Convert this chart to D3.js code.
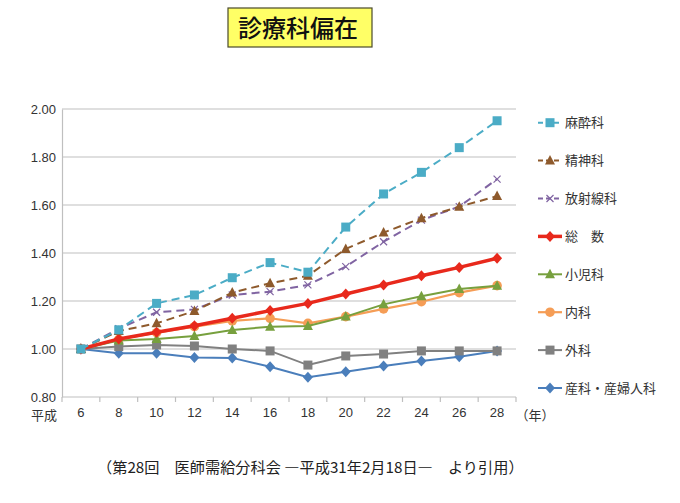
<!DOCTYPE html>
<html><head><meta charset="utf-8">
<script src="https://cdn.jsdelivr.net/npm/d3@7"></script>
<style>body{margin:0;background:#fff}svg{display:block}</style>
</head><body>
<svg id="c" width="680" height="503"></svg>
<script>
const categories = ["6","8","10","12","14","16","18","20","22","24","26","28"];
const yTicks = [0.80,1.00,1.20,1.40,1.60,1.80,2.00];
const seriesNames = ["麻酔科","精神科","放射線科","総　数","小児科","内科","外科","産科・産婦人科"];
const masui    = [1.00,1.08,1.19,1.225,1.297,1.36,1.32,1.508,1.646,1.736,1.839,1.951];
const seishin  = [1.00,1.075,1.107,1.158,1.235,1.274,1.305,1.417,1.485,1.545,1.593,1.637];
const houshasen= [1.00,1.085,1.153,1.165,1.225,1.239,1.267,1.343,1.447,1.537,1.593,1.708];
const sousu    = [1.00,1.042,1.07,1.097,1.128,1.16,1.19,1.229,1.267,1.305,1.34,1.378];
const shouni   = [1.00,1.035,1.042,1.054,1.079,1.093,1.096,1.135,1.186,1.22,1.25,1.264];
const naika    = [1.00,1.04,1.068,1.093,1.117,1.128,1.107,1.135,1.167,1.197,1.235,1.264];
const geka     = [1.00,1.01,1.017,1.0125,1.00,0.992,0.933,0.971,0.979,0.992,0.992,0.992];
const sanka    = [1.00,0.982,0.982,0.965,0.963,0.926,0.882,0.905,0.929,0.95,0.968,0.992];
const allValues = [masui,seishin,houshasen,sousu,shouni,naika,geka,sanka];
const colors = ["#4bacc6","#8e5a2c","#8064a2","#e8291c","#77a03e","#f59d56","#808080","#4a7ebb"];
const markers = ["square","triangle","cross","diamond","triangle","circle","square","diamond"];
const dashed = [true,true,true,false,false,false,false,false];
const widths = [2,2,2,3.5,2,2.2,2,2];
const title = "診療科偏在";
const footnote = "（第28回　医師需給分科会 ―平成31年2月18日―　より引用）";

const svg = d3.select("#c");
const JP = "'Noto Sans CJK JP','Liberation Sans',sans-serif";
const NUM = "'Liberation Sans',Arial,sans-serif";

// title
svg.append("rect").attr("x",228).attr("y",8).attr("width",144).attr("height",39)
  .attr("fill","#ffff66").attr("stroke","#4a4a2a").attr("stroke-width",1.2);
svg.append("text").attr("x",298).attr("y",37).attr("text-anchor","middle")
  .attr("font-family",JP).attr("font-size",24).attr("font-weight",500).attr("fill","#111").text(title);

const x = d3.scaleBand().domain(categories).range([62,516]);
const y = d3.scaleLinear().domain([0.8,2.0]).range([397,109]);

// gridlines
svg.append("g").selectAll("line").data(yTicks.slice(1)).join("line")
  .attr("x1",62).attr("x2",516).attr("y1",d=>y(d)).attr("y2",d=>y(d))
  .attr("stroke","#bfbfbf").attr("stroke-width",1.2);

// y axis
const ya = svg.append("g").attr("transform","translate(62,0)")
  .call(d3.axisLeft(y).tickValues(yTicks).tickFormat(d3.format(".2f")).tickSize(0).tickPadding(6));
ya.select(".domain").attr("stroke","#bfbfbf").attr("stroke-width",1.2);
ya.selectAll("text").attr("font-family",NUM).attr("font-size",13).attr("fill","#333");

// x axis
const xa = svg.append("g").attr("transform","translate(0,397)")
  .call(d3.axisBottom(x).tickSize(0).tickPadding(11));
xa.select(".domain").attr("stroke","#bfbfbf").attr("stroke-width",1.2).attr("d","M62,0H516");
xa.selectAll("text").attr("font-family",NUM).attr("font-size",13).attr("fill","#333");
// tick marks at band boundaries
const bounds = categories.map(c=>x(c)).concat([x.range()[1]]);
svg.append("g").selectAll("line").data(bounds).join("line")
  .attr("x1",d=>d).attr("x2",d=>d).attr("y1",397).attr("y2",402)
  .attr("stroke","#bfbfbf").attr("stroke-width",1.2);
svg.append("text").attr("x",44).attr("y",420).attr("text-anchor","middle")
  .attr("font-family",JP).attr("font-size",13).attr("fill","#333").text("平成");
svg.append("text").attr("x",535).attr("y",420).attr("text-anchor","middle")
  .attr("font-family",JP).attr("font-size",13).attr("fill","#333").text("（年）");

function drawMarker(g, type, cx, cy, color){
  if(type==="square"){
    g.append("rect").attr("x",cx-4.5).attr("y",cy-4.5).attr("width",9).attr("height",9).attr("fill",color);
  } else if(type==="triangle"){
    g.append("path").attr("d",`M${cx},${cy-5.5}L${cx+5},${cy+4}L${cx-5},${cy+4}Z`).attr("fill",color);
  } else if(type==="diamond"){
    g.append("path").attr("d",`M${cx},${cy-5.5}L${cx+5},${cy}L${cx},${cy+5.5}L${cx-5},${cy}Z`).attr("fill",color);
  } else if(type==="circle"){
    g.append("circle").attr("cx",cx).attr("cy",cy).attr("r",4.8).attr("fill",color);
  } else if(type==="cross"){
    g.append("path").attr("d",`M${cx-3.5},${cy-3.5}L${cx+3.5},${cy+3.5}M${cx-3.5},${cy+3.5}L${cx+3.5},${cy-3.5}`)
      .attr("stroke",color).attr("stroke-width",1.2).attr("fill","none");
  }
}

const line = d3.line().x((d,i)=>x(categories[i])+x.bandwidth()/2).y(d=>y(d));
const order = [7,6,5,4,3,2,1,0];
order.forEach(k=>{
  const g = svg.append("g");
  g.append("path").attr("d",line(allValues[k])).attr("fill","none")
    .attr("stroke",colors[k]).attr("stroke-width",widths[k])
    .attr("stroke-dasharray",dashed[k]?"8,5":null);
  allValues[k].forEach((v,i)=>drawMarker(g,markers[k],x(categories[i])+x.bandwidth()/2,y(v),colors[k]));
});

// legend
seriesNames.forEach((n,k)=>{
  const cy = 122.7 + k*37.9;
  const g = svg.append("g");
  g.append("line").attr("x1",538).attr("x2",562).attr("y1",cy).attr("y2",cy)
    .attr("stroke",colors[k]).attr("stroke-width",widths[k])
    .attr("stroke-dasharray",dashed[k]?"5,3":null);
  drawMarker(g,markers[k],550,cy,colors[k]);
  g.append("text").attr("x",565).attr("y",cy+4.5).attr("font-family",JP).attr("font-size",13)
    .attr("fill","#333").text(n);
});

svg.append("text").attr("x",97).attr("y",473).attr("font-family",JP).attr("font-size",15.2)
  .attr("fill","#222").text(footnote);
</script>
</body></html>
